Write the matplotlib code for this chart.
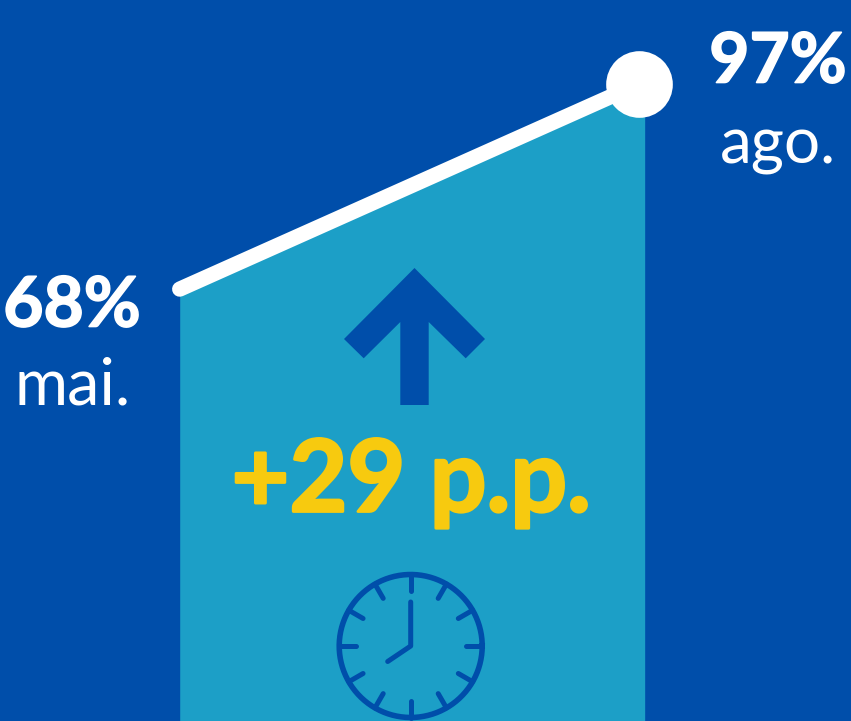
import matplotlib
matplotlib.use('Agg')
import matplotlib.pyplot as plt
import matplotlib.patheffects as pe
import numpy as np
from matplotlib.patches import Polygon

months = ['mai.', 'ago.']
values = [68, 97]
positions = [0, 1]
change_label = '+29 p.p.'

BLUE = '#004eaa'
TEAL = '#1c9fc7'
YELLOW = '#f7ca0f'

plt.rcParams['font.family'] = ['Lato', 'DejaVu Sans']

fig = plt.figure(figsize=(8.51, 7.21), dpi=100, facecolor=BLUE)
ax = fig.add_axes([0, 0, 1, 1])
ax.set_facecolor(BLUE)
ax.axis('off')

# axis limits put the two points where the picture has them
ax.set_xlim(-0.3915, 1.4625)
ax.set_ylim(6.9, 108.9)

# area under the line, runs a bit past the last point
ax.fill_between(positions + [1.013], values + [values[1]], 0, color=TEAL, lw=0)
ax.plot(positions, values, color='white', lw=11, solid_capstyle='round', zorder=3)
ax.plot(positions[1], values[1], 'o', color='white', ms=48, mew=0, zorder=4)

# everything below is decoration placed in pixels (origin top left)
def P(x, y):
    return (x / 851, 1 - y / 721)

def label(x, y, s, color='white', size=50, heavy=0):
    txt = ax.text(*P(x, y), s, transform=ax.transAxes, color=color, fontsize=size,
                  fontweight='bold' if heavy else 'normal', ha='center', va='center', zorder=5)
    if heavy:
        # Lato Black is not installed, thicken the bold instead
        txt.set_path_effects([pe.withStroke(linewidth=heavy, foreground=color)])

label(72, 307, f'{values[0]}%', heavy=1.2)
label(73, 386, months[0], size=46.5)
label(778, 63, f'{values[1]}%', heavy=1.2)
label(778, 146, months[1], size=46)
label(411, 483, change_label, color=YELLOW, size=72, heavy=2)

# up arrow
arrow = [(414.5, 268), (344, 339), (363.7, 358.3), (400.3, 322), (400.3, 405),
         (428.7, 405), (428.7, 322), (465.7, 358.3), (485, 339)]
ax.add_patch(Polygon([P(*p) for p in arrow], closed=True, color=BLUE, lw=0,
                     transform=ax.transAxes, zorder=2))

# clock
cx, cy = 410.7, 646
t = np.linspace(0, 2 * np.pi, 200)
ax.plot(*np.array([P(cx + 71.5 * np.cos(a), cy + 71.5 * np.sin(a)) for a in t]).T,
        color=BLUE, lw=4, transform=ax.transAxes, zorder=2)
for h in range(12):
    a = np.radians(h * 30)
    ax.plot(*np.array([P(cx + r * np.sin(a), cy - r * np.cos(a)) for r in (71.5, 55)]).T,
            color=BLUE, lw=3.6, solid_capstyle='round', transform=ax.transAxes, zorder=2)
hands = [(cx, cy - 44), (cx, cy), (cx - 23, cy + 15.5)]
ax.plot(*np.array([P(*p) for p in hands]).T, color=BLUE, lw=3.6,
        solid_capstyle='round', solid_joinstyle='round', transform=ax.transAxes, zorder=2)

fig.savefig('out.png', dpi=100, facecolor=BLUE)
